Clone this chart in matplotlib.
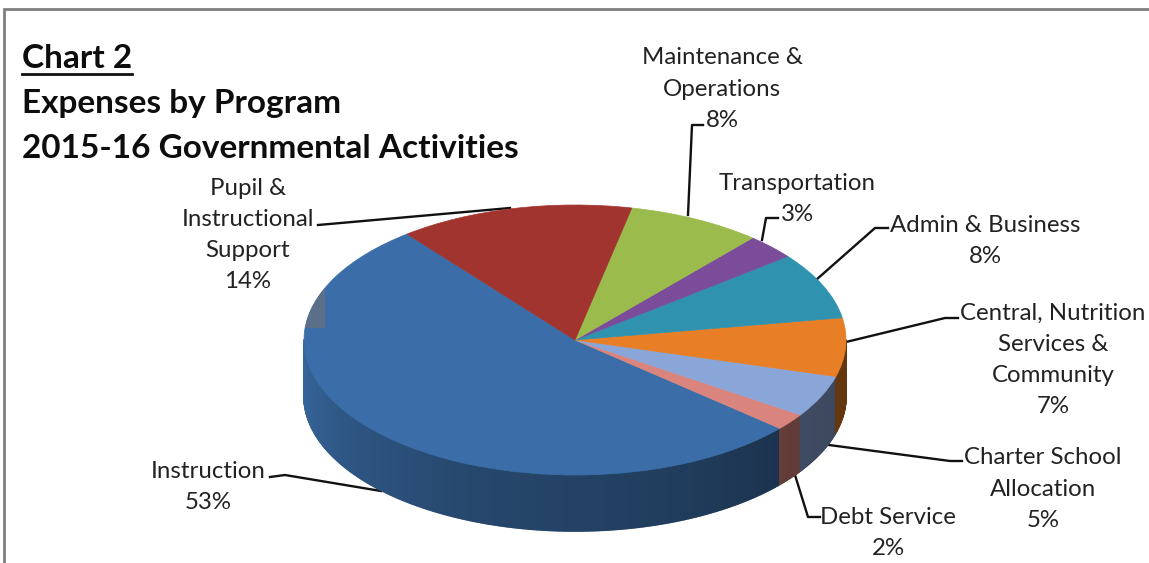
import numpy as np
import matplotlib
matplotlib.use('Agg')
import matplotlib.pyplot as plt
from matplotlib.collections import PolyCollection
from matplotlib.patches import Rectangle,Wedge
from matplotlib.transforms import Affine2D

plt.rcParams['font.family']=['Lato','DejaVu Sans']

# slices, counter-clockwise from the start angle
names=['Instruction','Debt Service','Charter School\nAllocation','Central, Nutrition\nServices &\nCommunity',
       'Admin & Business','Transportation','Maintenance &\nOperations','Pupil &\nInstructional\nSupport']
values=[53,2,5,7,8,3,8,14]
colors=['#3b6ea8','#d9847c','#8aa6d8','#e87f26','#2f93b0','#7a4c9a','#9bbb4c','#a2342f']

title_lines=['Chart 2','Expenses by Program','2015-16 Governmental Activities']

# label centres and leader paths, in pixels
label_pos=[(208,487),(888,533),(1043,489),(1053,360),(985,241),(797,199),(722,89),(248,235)]
leaders=[[(270,477),(285,475),(381,491)],
         [(795,475),(808,517),(820,517)],
         [(829,445),(950,461),(962,461)],
         [(846,342),(945,318),(958,318)],
         [(816,280),(875,228),(888,228)],
         [(762,240),(766,218),(778,218)],
         [(688,215),(692,125),(703,125)],
         [(318,225),(510,208)]]

cx,cy=575,340
rx,ry=271,135
depth=56
start=128.3

fig=plt.figure(figsize=(11.49,5.63),dpi=100)
ax=fig.add_axes([0,0,1,1])
ax.set_xlim(0,1149)
ax.set_ylim(563,0)
ax.axis('off')

edges=start+np.concatenate([[0],np.cumsum(values)])*360/sum(values)

# side wall, split into thin strips so the shade follows the angle
def wall_shade(t):
    return np.interp(t,[180,210,250,290,320,360],[0.95,0.8,0.64,0.56,0.46,0.42])

quads=[]
quad_colors=[]
for i in range(len(values)):
    t1=max(edges[i],180)
    t2=min(edges[i+1],360)
    if t2<=t1:
        continue
    steps=np.linspace(t1,t2,int((t2-t1)*2)+2)
    for a,b in zip(steps[:-1],steps[1:]):
        xa,ya=cx+rx*np.cos(np.radians(a)),cy-ry*np.sin(np.radians(a))
        xb,yb=cx+rx*np.cos(np.radians(b)),cy-ry*np.sin(np.radians(b))
        quads.append([(xa,ya),(xb,yb),(xb,yb+depth),(xa,ya+depth)])
        rgb=np.array(matplotlib.colors.to_rgb(colors[i]))
        quad_colors.append(rgb*wall_shade((a+b)/2))
ax.add_collection(PolyCollection(quads,facecolors=quad_colors,edgecolors=quad_colors,linewidths=1.2,zorder=2))

# top face, a unit pie squashed to the ellipse
ellipse=Affine2D().scale(rx,-ry).translate(cx,cy)+ax.transData
wedges=[]
for i in range(len(values)):
    wedges.append(ax.add_patch(Wedge((0,0),1,edges[i],edges[i+1],facecolor=colors[i],edgecolor=colors[i],
                                     linewidth=0.5,transform=ellipse,zorder=3)))
# grey block on the left rim, cut off by the first slice's outline
grey=Rectangle((300,287),25,41,facecolor='#5b7088',edgecolor='none',zorder=3)
ax.add_patch(grey)
grey.set_clip_path(wedges[0])

for path in leaders:
    xs,ys=zip(*path)
    ax.plot(xs,ys,color='#111111',lw=1.7,solid_joinstyle='round',zorder=1)

for i in range(len(values)):
    ax.text(label_pos[i][0],label_pos[i][1],names[i]+'\n'+str(values[i])+'%',ha='center',va='center',
            fontsize=17.3,color='#222222',linespacing=1.6,zorder=4)

# heading
title_y=[59,103,148]
for line,y in zip(title_lines,title_y):
    ax.text(22,y,line,ha='left',va='center',fontsize=24,fontweight='bold',color='#0d0d0d')
ax.plot([22,132],[74,74],color='#111111',lw=2)

# frame on the top and left only
ax.plot([4,4,1149],[563,9,9],color='#7f7f7f',lw=2,solid_joinstyle='miter')

fig.savefig('out.png',dpi=100)
